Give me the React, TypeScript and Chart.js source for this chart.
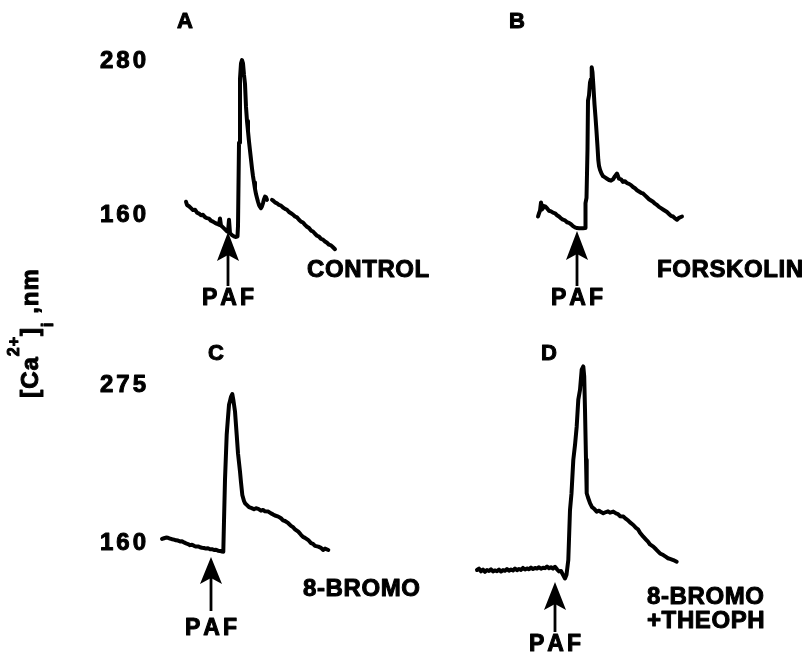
import React, { useEffect, useRef } from "react";
import { Chart, registerables } from "chart.js";

Chart.register(...registerables);

type Pt = [number, number | null];

// ---- DATA: time (s, relative to PAF addition), [Ca2+]i (nM) ----
const controlTrace: Pt[] = [
  [-42, 169], [-41, 166.5], [-39, 165.5], [-37, 164], [-35, 162.5], [-33, 162.8], [-31, 160.5], [-29, 159.8],
  [-27, 158.5], [-25, 158.8], [-23, 157], [-21, 156.2], [-19, 155.8], [-17, 154.2], [-15, 153.5], [-13, 152.5],
  [-11, 151.8], [-9, 151], [-8, 156], [-7, 150.5], [-5, 149], [-3, 147.5], [-1, 146], [0, 145.5], [1, 155],
  [2, 144.5], [4, 143], [6, 142], [8, 141.5], [9.5, 142], [10, 150], [11, 215], [12, 265], [13, 277], [14, 279.5],
  [15, 277], [16, 268], [17, 261], [18, 243], [19, 232], [20, 224], [21, 216], [22, 209], [23, 202], [24, 195],
  [25, 189], [26, 184], [27, 179], [28, 175], [29, 172], [30, 169], [31, 166.5], [32, 165], [33, 164], [34, 165.5],
  [35, 168], [36, 171], [37, 173], [38, 172.5], [39, 170.5], [41, null], [44, 170.5], [45, 170], [47, 168.5],
  [49, 167.8], [51, 166.5], [53, 166], [55, 164.5], [57, 163.5], [59, 162.8], [61, 161], [63, 160], [65, 159],
  [67, 157.5], [69, 156.8], [71, 155], [73, 153.5], [75, 152.8], [77, 151], [79, 149.5], [81, 148.5], [83, 146.5],
  [85, 145.8], [87, 144], [89, 142.5], [91, 141.8], [93, 140], [95, 139.5], [97, 138], [99, 137], [101, 135.5],
  [103, 135], [105, 133.5], [107, 132],
];

const forskolinTrace: Pt[] = [
  [-39, 157.5], [-38, 160], [-37, 162], [-36, 168.5], [-35, 163], [-34, 166], [-33, 164.5], [-32, 165.5],
  [-30, 164], [-28, 162], [-26, 161.5], [-24, 160.5], [-22, 160], [-20, 158.5], [-18, 157.5], [-16, 156],
  [-14, 155], [-12, 154.5], [-10, 153], [-8, 152.5], [-6, 151.5], [-4, 150], [-2, 149], [0, 148.5], [2, 148.3],
  [4, 148.3], [6, 148.3], [8, 148.5], [8.5, 168], [9.5, 172], [10.5, 210], [11, 248], [12, 252], [13, 262],
  [14, 265], [14.7, 274], [15.5, 270], [16.5, 258], [17.5, 245], [18.5, 235], [19.5, 224], [20.5, 212],
  [21.3, 201.5], [22, 197], [23, 194], [24.5, 191], [26, 189], [28, 188], [30, 187], [32, 186], [34, 185.5],
  [36, 186.5], [38, 189], [40, 191], [42, 187], [44, 186.5], [46, 184.5], [48, 185], [50, 183.5], [52, 183],
  [54, 182], [56, 180.5], [58, 179.5], [60, 178], [62, 177], [64, 176], [66, 175.5], [68, 174], [70, 172.5],
  [72, 171], [74, 170], [76, 169], [78, 167.5], [80, 166.5], [82, 165], [84, 164], [86, 163], [88, 162],
  [90, 161], [92, 159.5], [94, 158], [96, 157.5], [98, 156], [100, 155], [102, 156.5], [105, 157.5],
];

const bromoTrace: Pt[] = [
  [-49, 162], [-47, 162.5], [-45, 163], [-43, 162.8], [-41, 162.3], [-39, 161.8], [-37, 161.5], [-35, 161],
  [-33, 160.8], [-31, 160.2], [-29, 160.3], [-27, 159.5], [-25, 158.8], [-23, 158.3], [-21, 157.5], [-19, 157.8],
  [-17, 157], [-15, 156.5], [-13, 156.6], [-11, 156], [-9, 155.6], [-7, 155.4], [-5, 155], [-3, 155.2],
  [-1, 154.5], [1, 154.6], [3, 154], [5, 154.2], [7, 153.5], [9, 153.3], [11, 152.8], [12.3, 152.7], [13, 175],
  [14, 205], [15.7, 237.5], [17, 250], [18, 259.2], [19, 262], [20, 265], [21.3, 267], [22.5, 262], [24, 254.4],
  [25.7, 237.5], [27, 224], [29, 210.8], [30, 203], [31.3, 193.9], [33, 189.5], [34, 187.9], [36, 186.5],
  [38, 185], [40.7, 184.3], [43, 183.5], [45, 184.2], [47.3, 183.8], [50, 182.5], [52, 183], [54, 182],
  [57.3, 181.8], [60, 180.5], [62, 179.8], [64, 179], [67.3, 178.2], [70, 177], [72, 175.5], [74, 175],
  [77.3, 173.4], [80, 171.5], [82, 170.5], [84, 169], [87.3, 167.3], [90, 165], [92, 163.5], [94, 162.8],
  [97.3, 161.2], [100, 159], [102, 158.5], [104, 157], [107.3, 156.4], [110, 155.5], [112, 154], [114, 155],
  [117.3, 154],
];

const bromoTheophTrace: Pt[] = [
  [-78, 139.5], [-76, 140.5], [-74, 138.5], [-72, 139.8], [-70, 138.2], [-68, 139.5], [-66, 138.8], [-64, 140],
  [-62, 138.5], [-60, 139.2], [-58, 138.6], [-56, 139.8], [-54, 138.4], [-52, 139.4], [-50, 138.9], [-48, 140.2],
  [-46, 139], [-44, 139.8], [-42, 139.2], [-40, 140.5], [-38, 139.4], [-36, 140.2], [-34, 139.6], [-32, 141],
  [-30, 139.8], [-28, 140.6], [-26, 140], [-24, 141.2], [-22, 140.2], [-20, 141], [-18, 140.5], [-16, 141.5],
  [-14, 140.4], [-12, 141.2], [-10, 140.8], [-8, 142], [-6, 140.7], [-4, 141.5], [-2, 140.5], [0, 141.8],
  [2, 140], [4, 138.5], [6, 138.8], [8, 136], [10, 133.4], [11.5, 136], [13.3, 146.7], [15, 183], [16.5, 195],
  [18.3, 219.3], [20, 230], [21.7, 243.5], [23.3, 262.9], [25, 270], [26.7, 284.7], [28.3, 287], [29.2, 280],
  [30, 255.6], [31, 219.3], [31.7, 195.1], [33, 192], [35, 187.9], [37, 185], [39, 184], [41.7, 181.8],
  [44, 182.5], [46, 181.5], [48.3, 180.6], [51, 181.5], [53, 182], [55, 181], [58.3, 181.8], [61, 180.5],
  [63, 180], [65, 178.5], [68.3, 178.2], [71, 176.5], [73, 175.5], [75, 174], [78.3, 172.1], [81, 170],
  [83, 169], [85, 166.5], [88.3, 163.6], [91, 161.5], [93, 160], [95, 158], [98.3, 156.4], [101, 154.5],
  [103, 153], [105, 151.5], [108.3, 150.3], [111, 149], [113, 148], [115, 147.5], [118.3, 146.7], [121.7, 145.5],
];

const panelLetters = ["A", "B", "C", "D"];
const conditionLabels = [["CONTROL"], ["FORSKOLIN"], ["8-BROMO"], ["8-BROMO", "+THEOPH"]];
const topRowTicks = [160, 280];
const bottomRowTicks = [160, 275];
const stimulusLabel = "PAF";
const stimulusTime = 0;

// ---- LAYOUT (pixels) ----
const W = 809;
const H = 657;
const SEC_PER_PX = 1;
const FONT = '"Liberation Sans", Arial, Helvetica, sans-serif';

const panels = [
  { id: "A", trace: controlTrace, pafPx: 228, ticks: topRowTicks, tickPx: [213.3, 59.5], showTicks: true,
    letter: [185, 20], label: [307, 268], arrow: { tip: 232, base: 259, end: 286, text: 297 } },
  { id: "B", trace: forskolinTrace, pafPx: 577, ticks: topRowTicks, tickPx: [213.3, 59.5], showTicks: false,
    letter: [517, 20], label: [657, 268], arrow: { tip: 231, base: 258, end: 286, text: 297 } },
  { id: "C", trace: bromoTrace, pafPx: 211, ticks: bottomRowTicks, tickPx: [541.7, 383], showTicks: true,
    letter: [216, 352], label: [303, 587], arrow: { tip: 557, base: 582, end: 611, text: 627 } },
  { id: "D", trace: bromoTheophTrace, pafPx: 555, ticks: bottomRowTicks, tickPx: [541.7, 383], showTicks: false,
    letter: [549, 352], label: [647, 595], arrow: { tip: 582, base: 608, end: 632, text: 643 } },
];

const cap = (size: number) => size * 0.716;

function setFont(ctx: CanvasRenderingContext2D, size: number) {
  ctx.font = `bold ${size}px ${FONT}`;
}

function spacedWidth(ctx: CanvasRenderingContext2D, text: string, spacing: number) {
  const chars = [...text];
  return chars.reduce((s, c) => s + ctx.measureText(c).width, 0) + spacing * Math.max(0, chars.length - 1);
}

function drawSpaced(ctx: CanvasRenderingContext2D, text: string, x: number, y: number, spacing: number, align: string) {
  const total = spacedWidth(ctx, text, spacing);
  let cx = align === "left" ? x : align === "right" ? x - total : x - total / 2;
  ctx.textAlign = "left";
  ctx.textBaseline = "alphabetic";
  ctx.lineWidth = 1;
  ctx.lineJoin = "round";
  for (const c of [...text]) {
    ctx.fillText(c, cx, y);
    ctx.strokeText(c, cx, y);
    cx += ctx.measureText(c).width + spacing;
  }
}

const annotationPlugin = {
  id: "figureAnnotations",
  afterDatasetsDraw(chart: any) {
    const ctx: CanvasRenderingContext2D = chart.ctx;
    ctx.save();
    ctx.fillStyle = "#000";
    ctx.strokeStyle = "#000";
    panels.forEach((p, i) => {
      const xs = chart.scales["x" + p.id];
      const ys = chart.scales["y" + p.id];
      // panel letter
      setFont(ctx, 22);
      drawSpaced(ctx, panelLetters[i], p.letter[0], p.letter[1] + cap(22) / 2, 0, "center");
      // y tick labels
      if (p.showTicks) {
        setFont(ctx, 24);
        for (const t of p.ticks) {
          drawSpaced(ctx, String(t), 146, ys.getPixelForValue(t) + cap(24) / 2, 3, "right");
        }
      }
      // stimulus arrow
      const ax = xs.getPixelForValue(stimulusTime);
      const a = p.arrow;
      ctx.beginPath();
      ctx.moveTo(ax, a.tip);
      ctx.lineTo(ax - 11, a.base + 2);
      ctx.lineTo(ax, a.base - 4);
      ctx.lineTo(ax + 11, a.base + 2);
      ctx.closePath();
      ctx.fill();
      ctx.lineWidth = 2.8;
      ctx.beginPath();
      ctx.moveTo(ax, a.base - 4);
      ctx.lineTo(ax, a.end);
      ctx.stroke();
      setFont(ctx, 23);
      drawSpaced(ctx, stimulusLabel, ax, a.text + cap(23) / 2, 3, "center");
      // condition label
      setFont(ctx, 24);
      conditionLabels[i].forEach((line, j) => {
        drawSpaced(ctx, line, p.label[0], p.label[1] + j * 24 + cap(24) / 2, 0.6, "left");
      });
    });

    // rotated y-axis title: [Ca2+]i ,nm
    const pieces = [
      { t: "[Ca", size: 24, dy: 0 },
      { t: "2+", size: 16, dy: -19 },
      { t: "]", size: 24, dy: 0 },
      { t: "i", size: 16, dy: 15 },
      { t: " ,nm", size: 24, dy: 0 },
    ];
    const sp = 1;
    let total = 0;
    for (const pc of pieces) {
      setFont(ctx, pc.size);
      total += spacedWidth(ctx, pc.t, sp) + sp;
    }
    ctx.translate(38, 333);
    ctx.rotate(-Math.PI / 2);
    let x = -total / 2;
    for (const pc of pieces) {
      setFont(ctx, pc.size);
      drawSpaced(ctx, pc.t, x, pc.dy, sp, "left");
      x += spacedWidth(ctx, pc.t, sp) + sp;
    }
    ctx.restore();
  },
};

function xRange(pafPx: number) {
  return { min: -pafPx * SEC_PER_PX, max: (W - pafPx) * SEC_PER_PX };
}

function yRange(ticks: number[], tickPx: number[]) {
  const [lo, hi] = ticks;
  const [loPx, hiPx] = tickPx;
  const k = (hi - lo) / (loPx - hiPx);
  const max = hi + hiPx * k;
  return { min: max - H * k, max };
}

export default function App() {
  const canvasRef = useRef<HTMLCanvasElement | null>(null);

  useEffect(() => {
    if (!canvasRef.current) return;
    const scales: any = {};
    panels.forEach((p) => {
      scales["x" + p.id] = { type: "linear", display: false, bounds: "data", ...xRange(p.pafPx) };
      scales["y" + p.id] = { type: "linear", display: false, bounds: "data", ...yRange(p.ticks, p.tickPx) };
    });
    const chart = new Chart(canvasRef.current, {
      type: "scatter",
      data: {
        datasets: panels.map((p, i) => ({
          label: conditionLabels[i].join(" "),
          data: p.trace.map(([t, v]) => ({ x: t, y: v })),
          xAxisID: "x" + p.id,
          yAxisID: "y" + p.id,
          showLine: true,
          spanGaps: false,
          borderColor: "#000",
          backgroundColor: "#000",
          borderWidth: 4,
          borderJoinStyle: "round",
          borderCapStyle: "round",
          pointRadius: 0,
          tension: 0,
        })),
      } as any,
      options: {
        responsive: false,
        animation: false,
        devicePixelRatio: 1,
        layout: { padding: 0 },
        scales,
        plugins: { legend: { display: false }, tooltip: { enabled: false }, title: { display: false } },
        events: [],
      } as any,
      plugins: [annotationPlugin],
    });
    return () => chart.destroy();
  }, []);

  return (
    <div style={{ position: "fixed", left: 0, top: 0, width: W, height: H, background: "#fff" }}>
      <canvas ref={canvasRef} width={W} height={H} style={{ display: "block" }} />
    </div>
  );
}
